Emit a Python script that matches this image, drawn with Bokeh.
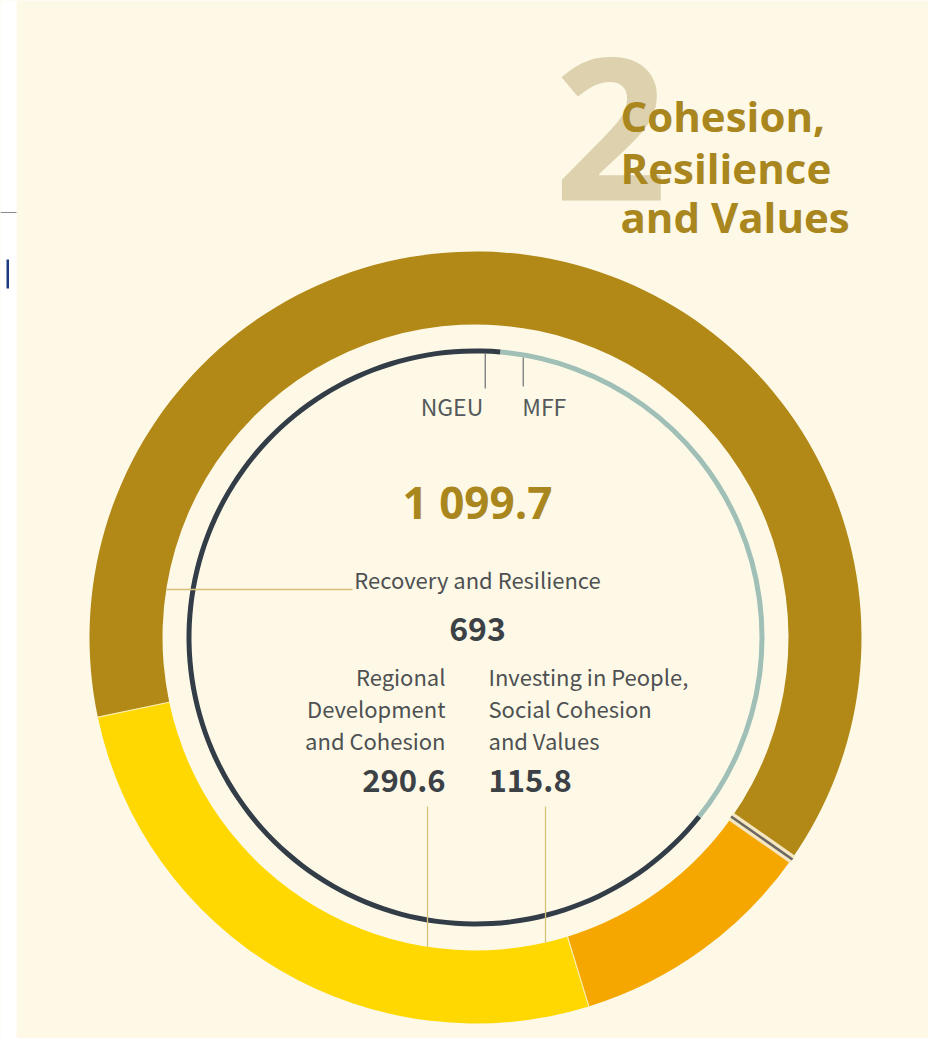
import math
from bokeh.plotting import figure
from bokeh.embed import file_html
from bokeh.resources import INLINE
from bokeh.core.properties import value

# ---------------- data ----------------
total_label = "1 099.7"
categories = ["Recovery and Resilience",
              "Regional Development and Cohesion",
              "Investing in People, Social Cohesion and Values"]
cat_values = [693.0, 290.6, 115.8]
cat_value_labels = ["693", "290.6", "115.8"]
sources = ["NGEU", "MFF"]
source_values = [721.9, 377.8]
title_lines = ["Cohesion,", "Resilience", "and Values"]
heading_number = "2"
regional_lines = ["Regional", "Development", "and Cohesion"]
people_lines = ["Investing in People,", "Social Cohesion", "and Values"]

# ---------------- style ----------------
BG = "#FDF9E6"
CAT_COLORS = ["#B28816", "#FED800", "#F5A700"]
SRC_COLORS = ["#333D47", "#9FBFB7"]
GOLD_TEXT = "#A9861E"
BODY_TEXT = "#4E5052"
NUM_TEXT = "#3C4146"
LEADER = "#D6C07A"
BODY_FONT = "Noto Sans CJK SC"
HEAD_FONT = "Open Sans"

W, H = 928, 1038
p = figure(width=W, height=H, x_range=(0, W), y_range=(-H, 0),
           output_backend="svg", toolbar_location=None,
           background_fill_color=BG, border_fill_color=BG,
           outline_line_color=None)
p.axis.visible = False
p.grid.visible = False
p.min_border_left = 0
p.min_border_right = 0
p.min_border_top = 0
p.min_border_bottom = 0

CX, CY = 475.0, -637.0
R_OUT, R_IN = 386.0, 313.0
R_SRC_OUT, R_SRC_IN = 289.0, 284.0


def pt(r, deg):
    a = math.radians(deg)
    return CX + r * math.cos(a), CY + r * math.sin(a)


def label(xs, baselines, txt, font, size, color, align, bold=False):
    # baselines in page pixels (downwards); small correction for how the baseline is placed
    ys = [-(b - 0.41 * size) for b in baselines]
    kw = dict(text_font=value(font), text_font_size=f"{size}px", text_color=color,
              text_align=align, text_baseline="alphabetic")
    if bold:
        kw["text_font_style"] = "bold"
    p.text(x=xs, y=ys, text=txt, **kw)


# left-edge crop artefacts of the source page
p.quad(left=[0], right=[16], bottom=[-H], top=[0], fill_color="#FFFFFF", line_color=None)
p.segment(x0=[0], y0=[-212], x1=[16], y1=[-212], line_color="#8A8A8A", line_width=1.2)
p.quad(left=[6], right=[8.5], bottom=[-288], top=[-259], fill_color="#1C3A80", line_color=None)

# ---------------- outer ring (categories) ----------------
total = sum(cat_values)
START_DEG = -35.0
starts, ends = [], []
acc = START_DEG
for v in cat_values:
    starts.append(math.radians(acc))
    acc += v / total * 360.0
    ends.append(math.radians(acc))
p.annular_wedge(x=[CX] * 3, y=[CY] * 3, inner_radius=R_IN, outer_radius=R_OUT,
                start_angle=starts, end_angle=ends, fill_color=CAT_COLORS, line_color=None)

bx0, by0, bx1, by1 = [], [], [], []
acc = START_DEG
for v in cat_values[:-1]:
    acc += v / total * 360.0
    x0, y0 = pt(R_IN - 1, acc)
    x1, y1 = pt(R_OUT + 1, acc)
    bx0.append(x0); by0.append(y0); bx1.append(x1); by1.append(y1)
p.segment(x0=bx0, y0=by0, x1=bx1, y1=by1, line_color="#FBEFB0", line_width=1.2)
sx0, sy0 = pt(R_IN - 1, START_DEG)
sx1, sy1 = pt(R_OUT + 1, START_DEG)
p.segment(x0=[sx0], y0=[sy0], x1=[sx1], y1=[sy1], line_color="#F4E6C0", line_width=9)
p.segment(x0=[sx0], y0=[sy0], x1=[sx1], y1=[sy1], line_color="#6B6660", line_width=2.5)

# ---------------- inner ring (sources) ----------------
src_total = sum(source_values)
SRC_START = 85.0
s_starts, s_ends = [], []
acc = SRC_START
for v in source_values:
    s_starts.append(math.radians(acc))
    acc += v / src_total * 360.0
    s_ends.append(math.radians(acc))
p.annular_wedge(x=[CX] * 2, y=[CY] * 2, inner_radius=R_SRC_IN, outer_radius=R_SRC_OUT,
                start_angle=s_starts, end_angle=s_ends, fill_color=SRC_COLORS, line_color=None)

bx, by = pt(R_SRC_IN, SRC_START)
ngeu_x, mff_x = bx - 15, bx + 23
ngeu_top = CY + math.sqrt(R_SRC_IN ** 2 - (ngeu_x - CX) ** 2)
mff_top = CY + math.sqrt(R_SRC_IN ** 2 - (mff_x - CX) ** 2)
p.segment(x0=[ngeu_x, mff_x], y0=[ngeu_top, mff_top], x1=[ngeu_x, mff_x], y1=[-388, -386],
          line_color="#777A7A", line_width=1.3)

rec_y = -589.0
rec_x0 = CX - math.sqrt(R_IN ** 2 - (rec_y - CY) ** 2)
p.segment(x0=[rec_x0], y0=[rec_y], x1=[352], y1=[rec_y], line_color=LEADER, line_width=1.3)

lx = [427.0, 545.0]
ly1 = [CY - math.sqrt(R_IN ** 2 - (x - CX) ** 2) for x in lx]
p.segment(x0=lx, y0=[-806, -806], x1=lx, y1=ly1, line_color=LEADER, line_width=1.3)

# ---------------- texts ----------------
label([610], [210], [heading_number], HEAD_FONT, 198, "#DDD1AE", "center", True)
label([620] * 3, [132, 184, 233], title_lines, HEAD_FONT, 42, GOLD_TEXT, "left", True)

label([ngeu_x - 2], [415], [sources[0]], BODY_FONT, 23, "#55595B", "right")
label([mff_x - 1], [415], [sources[1]], BODY_FONT, 23, "#55595B", "left")

label([477], [520], [total_label], HEAD_FONT, 44, GOLD_TEXT, "center", True)

label([477], [588], [categories[0]], BODY_FONT, 22, BODY_TEXT, "center")
label([477], [642], [cat_value_labels[0]], BODY_FONT, 32, NUM_TEXT, "center", True)

line_b = [685, 717, 749]
label([445] * 3, line_b, regional_lines, BODY_FONT, 22, BODY_TEXT, "right")
label([445], [793], [cat_value_labels[1]], BODY_FONT, 31, NUM_TEXT, "right", True)
label([488] * 3, line_b, people_lines, BODY_FONT, 22, BODY_TEXT, "left")
label([488], [793], [cat_value_labels[2]], BODY_FONT, 31, NUM_TEXT, "left", True)

open("out.html", "w").write(file_html(p, INLINE, title="Cohesion, Resilience and Values"))
